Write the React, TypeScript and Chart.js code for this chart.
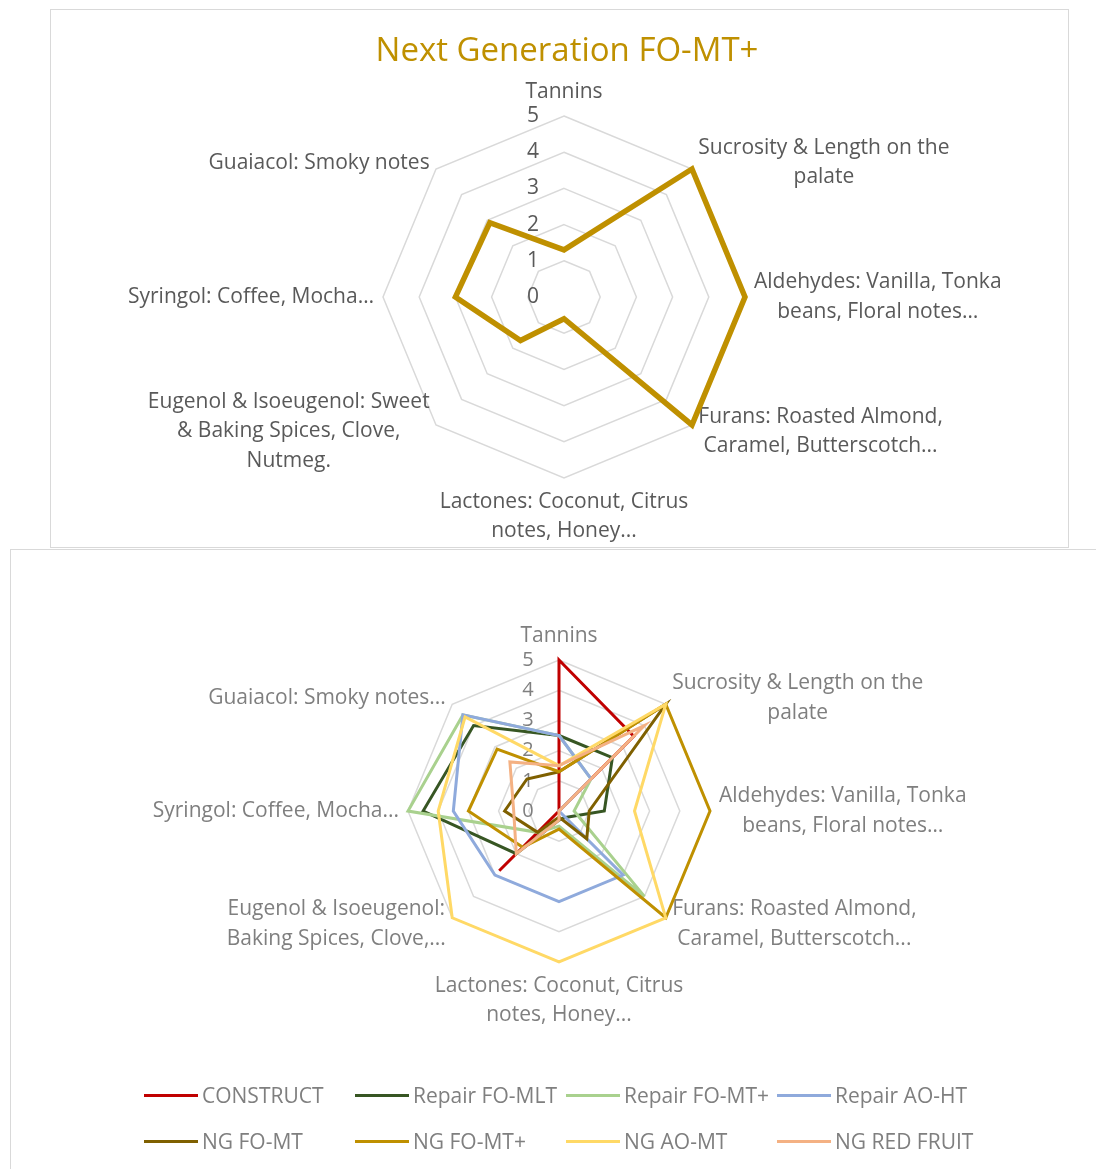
import React, { useEffect, useRef } from "react";
import { Chart, registerables } from "chart.js";
Chart.register(...registerables);

const FONT = "'Open Sans', sans-serif";

// ---------- data ----------
const topTitle = "Next Generation FO-MT+";
const topCategories: string[][] = [
  ["Tannins"],
  ["Sucrosity & Length on the", "palate"],
  ["Aldehydes: Vanilla, Tonka", "beans, Floral notes…"],
  ["Furans: Roasted Almond,", "Caramel, Butterscotch..."],
  ["Lactones: Coconut, Citrus", "notes, Honey..."],
  ["Eugenol & Isoeugenol: Sweet", "& Baking Spices, Clove,", "Nutmeg."],
  ["Syringol: Coffee, Mocha…"],
  ["Guaiacol: Smoky notes"],
];
const bottomCategories: string[][] = [
  ["Tannins"],
  ["Sucrosity & Length on the", "palate"],
  ["Aldehydes: Vanilla, Tonka", "beans, Floral notes…"],
  ["Furans: Roasted Almond,", "Caramel, Butterscotch..."],
  ["Lactones: Coconut, Citrus", "notes, Honey..."],
  ["Eugenol & Isoeugenol:", "Baking Spices, Clove,..."],
  ["Syringol: Coffee, Mocha..."],
  ["Guaiacol: Smoky notes..."],
];
const tickValues = [0, 1, 2, 3, 4, 5];

const topSeriesName = "NG FO-MT+";
const topSeries = [1.3, 5, 5, 5, 0.6, 1.7, 3, 2.9];

const seriesNames = [
  "CONSTRUCT",
  "Repair FO-MLT",
  "Repair FO-MT+",
  "Repair AO-HT",
  "NG FO-MT",
  "NG FO-MT+",
  "NG AO-MT",
  "NG RED FRUIT",
];
const construct = [5, 3.5, 0, 0, 0, 2.8, 0, 0];
const repairFoMlt = [2.5, 2.5, 1.5, 0.3, 0.3, 2, 4.5, 4];
const repairFoMtPlus = [2.5, 1.5, 0.5, 4, 0.5, 1, 5, 4.5];
const repairAoHt = [2.5, 1.5, 0, 3, 3, 3, 3.5, 4.5];
const ngFoMt = [1.3, 5, 1, 1.3, 0.2, 1, 1.8, 1.5];
const ngFoMtPlus = [1.3, 5, 5, 5, 0.6, 1.7, 3, 2.9];
const ngAoMt = [1.5, 5, 2.5, 5, 5, 5, 4, 4.4];
const ngRedFruit = [1.5, 4, 0, 0, 0.3, 2, 1.5, 2.3];
const seriesValues = [construct, repairFoMlt, repairFoMtPlus, repairAoHt, ngFoMt, ngFoMtPlus, ngAoMt, ngRedFruit];
const seriesColors = ["#C00000", "#375623", "#A9D18E", "#8FAADC", "#7F6000", "#BF9000", "#FFD966", "#F4B183"];
const titleColor = "#BF9000";

// ---------- helpers ----------
type LabelOpts = {
  labels: string[][];
  labelSize: number;
  labelColor: string;
  lineHeight: number;
  gap: number;
  tickSize: number;
  tickColor: string;
  tickOffset: number;
  title?: string;
  titleSize?: number;
  titleY?: number;
  titleDx?: number;
};

function makePlugin(o: LabelOpts) {
  return {
    id: "excelLabels",
    beforeDatasetsDraw(chart: any) {
      const scale: any = chart.scales.r;
      const ctx: CanvasRenderingContext2D = chart.ctx;
      ctx.save();
      // tick labels (left of vertical axis)
      ctx.font = `${o.tickSize}px ${FONT}`;
      ctx.fillStyle = o.tickColor;
      ctx.textAlign = "center";
      ctx.textBaseline = "middle";
      tickValues.forEach((v) => {
        const d = scale.getDistanceFromCenterForValue(v);
        ctx.fillText(String(v), scale.xCenter + o.tickOffset, scale.yCenter - d);
      });
      // category labels
      ctx.font = `${o.labelSize}px ${FONT}`;
      ctx.fillStyle = o.labelColor;
      o.labels.forEach((lines, i) => {
        const p = scale.getPointPosition(i, scale.drawingArea + o.gap);
        const cos = Math.cos(p.angle);
        const sin = Math.sin(p.angle);
        const w = Math.max(...lines.map((l) => ctx.measureText(l).width));
        const h = lines.length * o.lineHeight;
        let left: number;
        if (cos > 0.01) left = p.x;
        else if (cos < -0.01) left = p.x - w;
        else left = p.x - w / 2;
        let top: number;
        if (sin < -0.99) top = p.y - h;
        else if (sin > 0.99) top = p.y;
        else top = p.y - h / 2;
        lines.forEach((l, j) => {
          ctx.fillText(l, left + w / 2, top + o.lineHeight * (j + 0.5));
        });
      });
      if (o.title) {
        ctx.font = `${o.titleSize}px ${FONT}`;
        ctx.fillStyle = titleColor;
        ctx.fillText(o.title, scale.xCenter + (o.titleDx || 0), o.titleY || 0);
      }
      ctx.restore();
    },
  };
}

function radarOptions(padding: { left: number; top: number; right: number; bottom: number }) {
  return {
    responsive: false,
    animation: false as const,
    layout: { padding },
    plugins: {
      legend: { display: false },
      tooltip: { enabled: false },
      title: { display: false },
    },
    elements: {
      point: { radius: 0, hoverRadius: 0 },
      line: { tension: 0, borderJoinStyle: "miter" as const },
    },
    scales: {
      r: {
        min: 0,
        max: 5,
        beginAtZero: true,
        ticks: { display: false, stepSize: 1 },
        pointLabels: { display: false },
        angleLines: { display: false },
        grid: { circular: false, color: "#D9D9D9", lineWidth: 1.5 },
      },
    },
  };
}

// ---------- components ----------
function TopChart() {
  const ref = useRef<HTMLCanvasElement>(null);
  useEffect(() => {
    if (!ref.current) return;
    const chart = new Chart(ref.current, {
      type: "radar",
      data: {
        labels: topCategories.map((l) => l.join(" ")),
        datasets: [
          {
            label: topSeriesName,
            data: topSeries,
            borderColor: titleColor,
            backgroundColor: "transparent",
            borderWidth: 5.5,
            fill: false,
          },
        ],
      },
      options: radarOptions({ left: 332, top: 106, right: 322, bottom: 68 }) as any,
      plugins: [
        makePlugin({
          labels: topCategories,
          labelSize: 21,
          labelColor: "#595959",
          lineHeight: 29.5,
          gap: 9,
          tickSize: 21,
          tickColor: "#595959",
          tickOffset: -31,
          title: topTitle,
          titleSize: 33,
          titleY: 42,
          titleDx: 3,
        }),
      ],
    });
    return () => chart.destroy();
  }, []);
  return (
    <canvas
      ref={ref}
      width={1016}
      height={536}
      style={{ position: "absolute", left: 51, top: 10, width: 1016, height: 536 }}
    />
  );
}

function BottomChart() {
  const ref = useRef<HTMLCanvasElement>(null);
  useEffect(() => {
    if (!ref.current) return;
    const chart = new Chart(ref.current, {
      type: "radar",
      data: {
        labels: bottomCategories.map((l) => l.join(" ")),
        datasets: seriesNames.map((name, i) => ({
          label: name,
          data: seriesValues[i],
          borderColor: seriesColors[i],
          backgroundColor: "transparent",
          borderWidth: 3,
          fill: false,
          order: seriesNames.length - i,
        })),
      },
      options: radarOptions({ left: 397, top: 110, right: 386, bottom: 207 }) as any,
      plugins: [
        makePlugin({
          labels: bottomCategories,
          labelSize: 21,
          labelColor: "#7F7F7F",
          lineHeight: 29.5,
          gap: 9,
          tickSize: 20,
          tickColor: "#7F7F7F",
          tickOffset: -31,
        }),
      ],
    });
    return () => chart.destroy();
  }, []);
  return (
    <canvas
      ref={ref}
      width={1085}
      height={619}
      style={{ position: "absolute", left: 11, top: 550, width: 1085, height: 619 }}
    />
  );
}

const legendCols = [144, 355, 566, 777];
const legendRows = [1095, 1141];

function Legend() {
  return (
    <>
      {seriesNames.map((name, i) => {
        const x = legendCols[i % 4];
        const y = legendRows[Math.floor(i / 4)];
        return (
          <React.Fragment key={name}>
            <div
              style={{
                position: "absolute",
                left: x,
                top: y - 1.5,
                width: 54,
                height: 3,
                background: seriesColors[i],
              }}
            />
            <div
              style={{
                position: "absolute",
                left: x + 58,
                top: y - 14,
                height: 28,
                lineHeight: "28px",
                fontFamily: FONT,
                fontSize: 21,
                color: "#7F7F7F",
                whiteSpace: "nowrap",
              }}
            >
              {name}
            </div>
          </React.Fragment>
        );
      })}
    </>
  );
}

export default function App() {
  return (
    <div
      style={{
        position: "fixed",
        left: 0,
        top: 0,
        width: 1096,
        height: 1169,
        overflow: "hidden",
        background: "#FFFFFF",
      }}
    >
      <div
        style={{
          position: "absolute",
          left: 50,
          top: 9,
          width: 1019,
          height: 539,
          boxSizing: "border-box",
          border: "1px solid #D9D9D9",
        }}
      />
      <div
        style={{
          position: "absolute",
          left: 10,
          top: 549,
          width: 1100,
          height: 640,
          boxSizing: "border-box",
          border: "1px solid #D9D9D9",
        }}
      />
      <TopChart />
      <BottomChart />
      <Legend />
    </div>
  );
}
